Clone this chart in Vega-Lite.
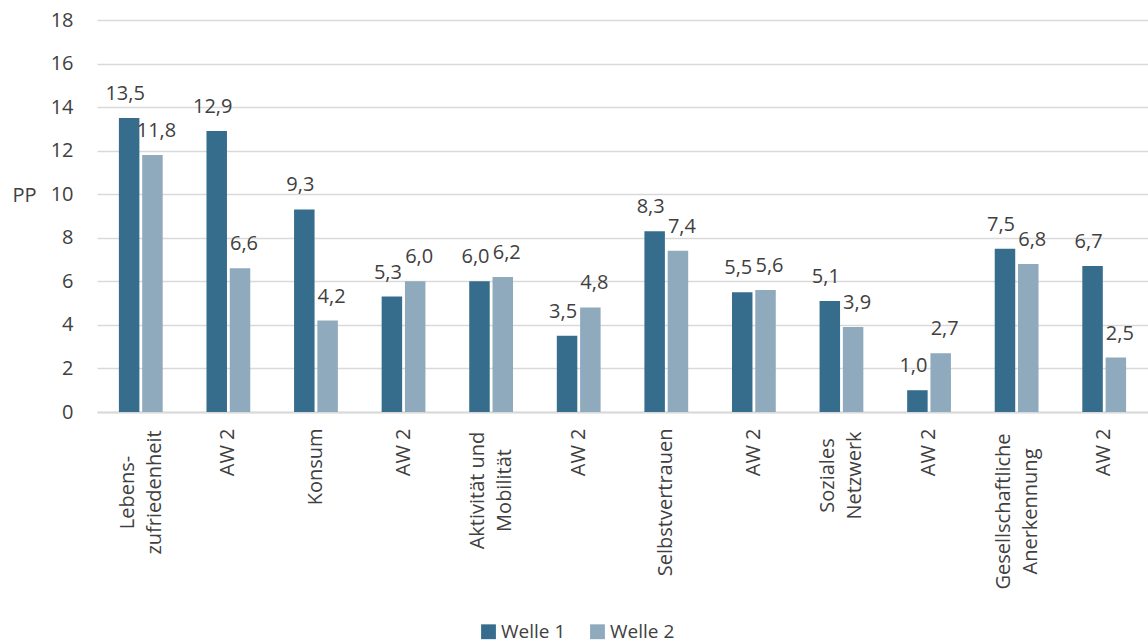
{
  "$schema": "https://vega.github.io/schema/vega-lite/v6.json",
  "width": 1051,
  "height": 392,
  "autosize": {"type": "none"},
  "padding": {"left": 97, "top": 20, "right": 0, "bottom": 232},
  "background": "white",
  "config": {
    "locale": {"number": {"decimal": ",", "thousands": ".", "grouping": [3], "currency": ["", " €"]}},
    "font": "Open Sans",
    "view": {"stroke": null}
  },
  "data": {
    "values": [
      {"cat": "c1", "welle": "Welle 1", "value": 13.5},
      {"cat": "c1", "welle": "Welle 2", "value": 11.8},
      {"cat": "c2", "welle": "Welle 1", "value": 12.9},
      {"cat": "c2", "welle": "Welle 2", "value": 6.6},
      {"cat": "c3", "welle": "Welle 1", "value": 9.3},
      {"cat": "c3", "welle": "Welle 2", "value": 4.2},
      {"cat": "c4", "welle": "Welle 1", "value": 5.3},
      {"cat": "c4", "welle": "Welle 2", "value": 6.0},
      {"cat": "c5", "welle": "Welle 1", "value": 6.0},
      {"cat": "c5", "welle": "Welle 2", "value": 6.2},
      {"cat": "c6", "welle": "Welle 1", "value": 3.5},
      {"cat": "c6", "welle": "Welle 2", "value": 4.8},
      {"cat": "c7", "welle": "Welle 1", "value": 8.3},
      {"cat": "c7", "welle": "Welle 2", "value": 7.4},
      {"cat": "c8", "welle": "Welle 1", "value": 5.5},
      {"cat": "c8", "welle": "Welle 2", "value": 5.6},
      {"cat": "c9", "welle": "Welle 1", "value": 5.1},
      {"cat": "c9", "welle": "Welle 2", "value": 3.9},
      {"cat": "c10", "welle": "Welle 1", "value": 1.0},
      {"cat": "c10", "welle": "Welle 2", "value": 2.7},
      {"cat": "c11", "welle": "Welle 1", "value": 7.5},
      {"cat": "c11", "welle": "Welle 2", "value": 6.8},
      {"cat": "c12", "welle": "Welle 1", "value": 6.7},
      {"cat": "c12", "welle": "Welle 2", "value": 2.5}
    ]
  },
  "encoding": {
    "x": {
      "field": "cat",
      "type": "nominal",
      "sort": null,
      "scale": {"paddingInner": 0.5, "paddingOuter": 0.25},
      "axis": {
        "title": null,
        "labelAngle": -90,
        "labelAlign": {"condition": {"test": "indexof(['c1','c5','c9','c11'], datum.value) >= 0", "value": "center"}, "value": "right"},
        "labelBaseline": "middle",
        "labelPadding": {"condition": [
          {"test": "datum.value == 'c1'", "value": 80},
          {"test": "datum.value == 'c5'", "value": 78},
          {"test": "datum.value == 'c9'", "value": 63},
          {"test": "datum.value == 'c11'", "value": 99}
        ], "value": 16},
        "labelFontSize": 20,
        "labelColor": "#404040",
        "labelLineHeight": 27,
        "labelOffset": {"condition": {"test": "indexof(['c1','c5','c9','c11'], datum.value) >= 0", "value": -13}, "value": 0},
        "ticks": false,
        "domainColor": "#d9d9d9",
        "domainWidth": 2,
        "labelExpr": "({'c1':['Lebens-','zufriedenheit'],'c2':'AW 2','c3':'Konsum','c4':'AW 2','c5':['Aktivität und','Mobilität'],'c6':'AW 2','c7':'Selbstvertrauen','c8':'AW 2','c9':['Soziales','Netzwerk'],'c10':'AW 2','c11':['Gesellschaftliche','Anerkennung'],'c12':'AW 2'})[datum.value]"
      }
    },
    "xOffset": {"field": "welle", "type": "nominal", "scale": {"paddingInner": 0.12}},
    "y": {
      "field": "value",
      "type": "quantitative",
      "scale": {"domain": [0, 18]},
      "axis": {
        "values": [0, 2, 4, 6, 8, 10, 12, 14, 16, 18],
        "title": "PP",
        "titleAngle": 0,
        "titleAlign": "left",
        "titleBaseline": "middle",
        "titleX": -85,
        "titleY": 175,
        "titleFontSize": 20,
        "titleFontWeight": "normal",
        "titleColor": "#404040",
        "labelFontSize": 20,
        "labelColor": "#404040",
        "labelAlign": "right",
        "labelPadding": 24,
        "ticks": false,
        "domain": false,
        "gridColor": "#d9d9d9",
        "gridWidth": 1.5
      }
    }
  },
  "layer": [
    {
      "mark": {"type": "bar"},
      "encoding": {
        "color": {
          "field": "welle",
          "type": "nominal",
          "scale": {"domain": ["Welle 1", "Welle 2"], "range": ["#376d8c", "#8fa9bd"]},
          "legend": {
            "title": null,
            "orient": "none",
            "legendX": 382,
            "legendY": 602,
            "direction": "horizontal",
            "symbolType": "square",
            "symbolSize": 220,
            "symbolStrokeWidth": 0,
            "labelFontSize": 19,
            "labelColor": "#404040",
            "labelOffset": 3,
            "columnPadding": 22
          }
        }
      }
    },
    {
      "transform": [{"filter": "datum.welle == 'Welle 1'"}],
      "mark": {"type": "text", "baseline": "middle", "dy": -24, "dx": -4, "fontSize": 20, "color": "#404040"},
      "encoding": {"text": {"field": "value", "type": "quantitative", "format": ".1f"}}
    },
    {
      "transform": [{"filter": "datum.welle == 'Welle 2'"}],
      "mark": {"type": "text", "baseline": "middle", "dy": -24, "dx": 4, "fontSize": 20, "color": "#404040"},
      "encoding": {"text": {"field": "value", "type": "quantitative", "format": ".1f"}}
    }
  ]
}
